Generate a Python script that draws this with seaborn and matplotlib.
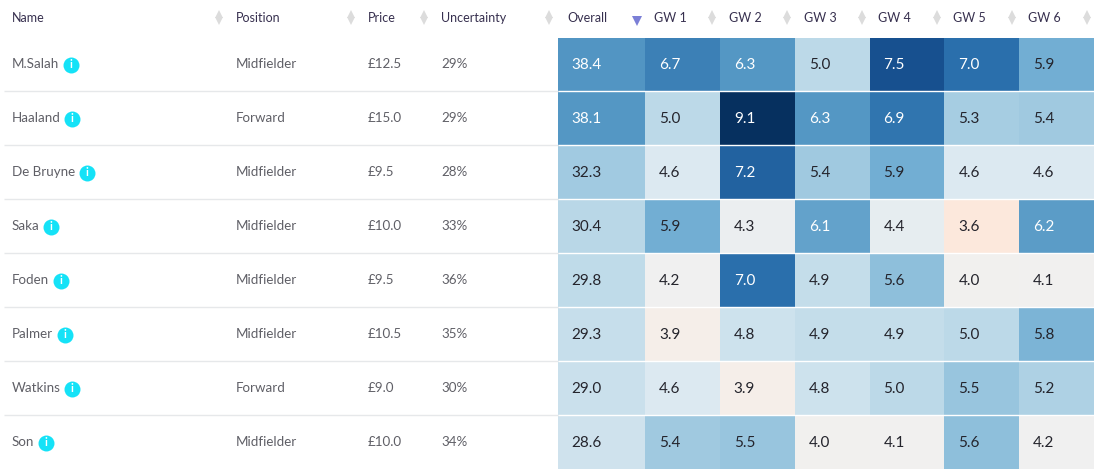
import matplotlib
matplotlib.use("Agg")
import matplotlib.pyplot as plt
from matplotlib.colors import LinearSegmentedColormap
import pandas as pd
import seaborn as sns

names = ["M.Salah", "Haaland", "De Bruyne", "Saka", "Foden", "Palmer", "Watkins", "Son"]
positions = ["Midfielder", "Forward", "Midfielder", "Midfielder", "Midfielder", "Midfielder", "Forward", "Midfielder"]
prices = ["£12.5", "£15.0", "£9.5", "£10.0", "£9.5", "£10.5", "£9.0", "£10.0"]
uncertainty = ["29%", "29%", "28%", "33%", "36%", "35%", "30%", "34%"]
overall = [38.4, 38.1, 32.3, 30.4, 29.8, 29.3, 29.0, 28.6]
gw_labels = ["GW 1", "GW 2", "GW 3", "GW 4", "GW 5", "GW 6"]
gw1 = [6.7, 5.0, 4.6, 5.9, 4.2, 3.9, 4.6, 5.4]
gw2 = [6.3, 9.1, 7.2, 4.3, 7.0, 4.8, 3.9, 5.5]
gw3 = [5.0, 6.3, 5.4, 6.1, 4.9, 4.9, 4.8, 4.0]
gw4 = [7.5, 6.9, 5.9, 4.4, 5.6, 4.9, 5.0, 4.1]
gw5 = [7.0, 5.3, 4.6, 3.6, 4.0, 5.0, 5.5, 5.6]
gw6 = [5.9, 5.4, 4.6, 6.2, 4.1, 5.8, 5.2, 4.2]

sns.set_theme(style="white")
plt.rcParams["font.family"] = ["Lato", "DejaVu Sans"]

W, H = 1098, 469
fig = plt.figure(figsize=(W / 100, H / 100), dpi=100, facecolor="white")

stops = [(3.6, "#fce8dc"), (3.9, "#f4eeea"), (4.0, "#f1f0ef"), (4.2, "#f0f0f0"), (4.6, "#dce9f1"),
         (5.0, "#bcd9e8"), (5.5, "#98c5de"), (5.9, "#73aed3"), (6.3, "#5497c4"),
         (7.0, "#2a6fac"), (7.5, "#17508f"), (9.1, "#06305f")]
vmin, vmax = stops[0][0], stops[-1][0]
cmap = LinearSegmentedColormap.from_list(
    "fpl", [((v - vmin) / (vmax - vmin), c) for v, c in stops])

top, row_h = 38, 54
col_edges = [558, 645, 1094]
n = len(names)


def cell_axes(x0, x1):
    return fig.add_axes([x0 / W, 1 - (top + n * row_h) / H, (x1 - x0) / W, n * row_h / H])


df_overall = pd.DataFrame({"Overall": overall}, index=names)
df_gw = pd.DataFrame(dict(zip(gw_labels, [gw1, gw2, gw3, gw4, gw5, gw6])), index=names)

ax_o = cell_axes(col_edges[0], col_edges[1])
sns.heatmap(df_overall, ax=ax_o, cmap=cmap, vmin=21.3, vmax=55.6, cbar=False,
            xticklabels=False, yticklabels=False)
ax_g = cell_axes(col_edges[1], col_edges[2])
sns.heatmap(df_gw, ax=ax_g, cmap=cmap, vmin=vmin, vmax=vmax, cbar=False,
            xticklabels=False, yticklabels=False)
for a in (ax_o, ax_g):
    a.set_xlabel("")
    a.set_ylabel("")

# Left aligned cell values, as in the web table
for r, v in enumerate(overall):
    ax_o.text(13 / 87, r + 0.5, f"{v:.1f}", ha="left", va="center", fontsize=11,
              color="white" if v > 35 else "#24242c")
for c, col in enumerate(gw_labels):
    for r, v in enumerate(df_gw[col]):
        ax_g.text(c + 14 / 74.8, r + 0.5, f"{v:.1f}", ha="left", va="center", fontsize=11,
                  color="white" if v >= 6 else "#24242c")

# Overlay in pixel coordinates for the table furniture
ov = fig.add_axes([0, 0, 1, 1], zorder=5)
ov.set_xlim(0, W)
ov.set_ylim(H, 0)
ov.axis("off")
ov.patch.set_alpha(0)

for r in range(1, n):
    y = top + r * row_h - 0.5
    ov.plot([4, 558], [y, y], color="#e6e8ea", lw=1, solid_capstyle="butt")
    ov.plot([558, 1094], [y, y], color="white", lw=1, solid_capstyle="butt")

hdr_color = "#37304f"
hdr_y = 18
headers = [("Name", 12), ("Position", 236), ("Price", 368), ("Uncertainty", 441), ("Overall", 567)]
gw_x = [654, 729, 804, 878, 953, 1028]
arrow_x = [219, 351, 424, 549, 712, 787, 862, 937, 1012, 1087]
for label, x in headers:
    ov.text(x, hdr_y, label, ha="left", va="center", fontsize=9, color=hdr_color)
for label, x in zip(gw_labels, gw_x):
    ov.text(x, hdr_y, label, ha="left", va="center", fontsize=9, color=hdr_color)

for x in arrow_x:
    ov.plot([x], [hdr_y - 3.5], marker="^", ms=6, color="#dcdcdc", mew=0)
    ov.plot([x], [hdr_y + 3.5], marker="v", ms=6, color="#dcdcdc", mew=0)
ov.plot([637], [hdr_y + 3], marker="v", ms=6.5, color="#7b7fd6", mew=0)

text_color = "#5f5f66"
fig.canvas.draw()
rend = fig.canvas.get_renderer()
for r, (nm, pos, pr, un) in enumerate(zip(names, positions, prices, uncertainty)):
    y = top + r * row_h + 26
    t = ov.text(12, y, nm, ha="left", va="center", fontsize=9.6, color=text_color)
    ov.text(236, y, pos, ha="left", va="center", fontsize=9.6, color=text_color)
    ov.text(368, y, pr, ha="left", va="center", fontsize=9.6, color=text_color)
    ov.text(441, y, un, ha="left", va="center", fontsize=9.6, color=text_color)
    ix = t.get_window_extent(rend).x1 + 11.5
    ov.plot([ix], [y + 1], marker="o", ms=11.5, color="#15e2f7", mew=0)
    ov.text(ix, y + 1, "i", ha="center", va="center", fontsize=8, color="white",
            fontweight="bold")

fig.savefig("out.png", dpi=100, facecolor="white")
